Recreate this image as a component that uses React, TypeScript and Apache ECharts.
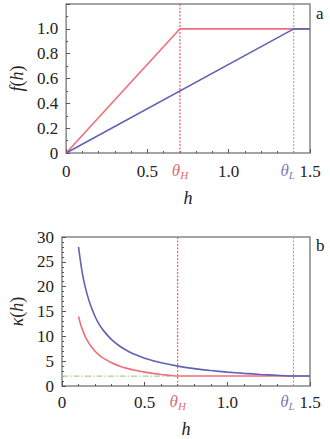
import React, { useEffect, useRef } from "react";
import * as echarts from "echarts";

// ---- data ----
const thetaH = 0.7;
const thetaL = 1.4;

// panel a: f(h)
const hRedA = [0, 0.7, 1.5];
const fRedA = [0, 1.0, 1.0];
const hBlueA = [0, 1.4, 1.5];
const fBlueA = [0, 1.0, 1.0];

// panel b: kappa(h)
const hRedB = [0.1, 0.11, 0.12, 0.13, 0.14, 0.15, 0.17, 0.2, 0.225, 0.25, 0.3, 0.35, 0.4, 0.45, 0.5, 0.55, 0.6, 0.65, 0.7, 1.5];
const kRedB = [14, 12.7, 11.7, 10.8, 10, 9.33, 8.24, 7, 6.22, 5.6, 4.67, 4, 3.5, 3.11, 2.8, 2.55, 2.33, 2.15, 2, 2];
const hBlueB = [0.1, 0.11, 0.12, 0.13, 0.14, 0.15, 0.17, 0.2, 0.225, 0.25, 0.3, 0.35, 0.4, 0.45, 0.5, 0.6, 0.7, 0.8, 0.9, 1.0, 1.1, 1.2, 1.3, 1.4, 1.5];
const kBlueB = [28, 25.5, 23.3, 21.5, 20, 18.7, 16.5, 14, 12.4, 11.2, 9.33, 8, 7, 6.22, 5.6, 4.67, 4, 3.5, 3.11, 2.8, 2.55, 2.33, 2.15, 2, 2];
const hGreen = [0, 0.66];
const kGreen = [2, 2];

const yTicksA = { min: 0, max: 1.2, interval: 0.2 };
const yTicksB = { min: 0, max: 30, interval: 5 };
const xTicks = { min: 0, max: 1.5, interval: 0.5 };

const RED = "#ef6e78";
const BLUE = "#5f63b5";
const RED_TXT = "#d8404c";
const BLUE_TXT = "#5858aa";
const FONT = "Liberation Serif";

const pairs = (xs: number[], ys: number[]) => xs.map((x, i) => [x, ys[i]]);

const thetaRich = {
  t: { fontSize: 17, lineHeight: 18, verticalAlign: "top", fontFamily: FONT, fontStyle: "italic" },
  s: { fontSize: 11, lineHeight: 11, padding: [8, 0, 0, 0], verticalAlign: "bottom", fontFamily: FONT, fontStyle: "italic" },
};

const nameRich = {
  i: { fontSize: 18, fontFamily: FONT, fontStyle: "italic", color: "#222" },
  n: { fontSize: 18, fontFamily: FONT, color: "#222" },
};

function makeXAxis(gridIndex: number, margin: number, gap: number) {
  return {
    type: "value",
    gridIndex,
    min: xTicks.min,
    max: xTicks.max,
    interval: xTicks.interval,
    axisLine: { show: false },
    axisTick: { show: true, inside: true, length: 4, lineStyle: { color: "#555", width: 1 } },
    minorTick: { show: true, splitNumber: 5, length: 2, lineStyle: { color: "#555", width: 1 } },
    splitLine: { show: false },
    axisLabel: {
      formatter: (v: number) => (v === 0 ? "0" : v.toFixed(1)),
      margin,
      fontSize: 17,
      lineHeight: 18,
      fontFamily: FONT,
      color: "#222",
      showMinLabel: true,
      showMaxLabel: true,
    },
    name: "{i|h}",
    nameLocation: "middle",
    nameGap: gap,
    nameTextStyle: { rich: nameRich },
  };
}

function vLine(ai: number, x: number, yMax: number, color: string) {
  return {
    type: "line",
    xAxisIndex: ai,
    yAxisIndex: ai,
    data: [[x, 0], [x, yMax]],
    showSymbol: false,
    symbol: "none",
    silent: true,
    z: 1,
    lineStyle: { color, width: 1, type: [2, 1.5] },
  };
}

function thetaLabel(ai: number, x: number, sub: string, color: string, distance: number, dx: number) {
  return {
    type: "scatter",
    xAxisIndex: ai,
    yAxisIndex: ai,
    data: [[x, 0]],
    symbolSize: 0,
    silent: true,
    label: {
      show: true,
      position: "bottom",
      distance,
      offset: [dx, 0],
      color,
      formatter: "{t|θ}{s|" + sub + "}",
      rich: thetaRich,
    },
  };
}

export default function App() {
  const ref = useRef<HTMLDivElement>(null);
  useEffect(() => {
    if (!ref.current) return;
    const chart = echarts.init(ref.current, null, { renderer: "svg" });
    const option: any = {
      animation: false,
      backgroundColor: "#fff",
      textStyle: { fontFamily: FONT },
      grid: [
        { left: 60, top: 4, width: 250, height: 149, show: true, borderColor: "#888", borderWidth: 1.5, backgroundColor: "transparent" },
        { left: 60, top: 237, width: 250, height: 150, show: true, borderColor: "#888", borderWidth: 1.5, backgroundColor: "transparent" },
      ],
      xAxis: [makeXAxis(0, 9, 36), makeXAxis(1, 7, 34)],
      yAxis: [
        {
          type: "value",
          gridIndex: 0,
          min: yTicksA.min,
          max: yTicksA.max,
          interval: yTicksA.interval,
          axisLine: { show: false },
          axisTick: { show: true, inside: true, length: 4, lineStyle: { color: "#555" } },
          minorTick: { show: true, splitNumber: 2, length: 2, lineStyle: { color: "#555" } },
          splitLine: { show: false },
          axisLabel: {
            margin: 8,
            fontSize: 17,
            fontFamily: FONT,
            color: "#222",
            formatter: (v: number) => (v === 0 ? "0" : v > 1.1 ? "" : v.toFixed(1)),
          },
          name: "{i|f}{n|(}{i|h}{n|)}",
          nameLocation: "middle",
          nameGap: 38,
          nameTextStyle: { rich: nameRich },
        },
        {
          type: "value",
          gridIndex: 1,
          min: yTicksB.min,
          max: yTicksB.max,
          interval: yTicksB.interval,
          axisLine: { show: false },
          axisTick: { show: true, inside: true, length: 4, lineStyle: { color: "#555" } },
          minorTick: { show: true, splitNumber: 5, length: 2, lineStyle: { color: "#555" } },
          splitLine: { show: false },
          axisLabel: { margin: 8, fontSize: 17, fontFamily: FONT, color: "#222" },
          name: "{i|κ}{n|(}{i|h}{n|)}",
          nameLocation: "middle",
          nameGap: 36,
          nameTextStyle: { rich: nameRich },
        },
      ],
      series: [
        vLine(0, thetaH, yTicksA.max, "#f03848"),
        vLine(0, thetaL, yTicksA.max, "#9094e0"),
        vLine(1, thetaH, yTicksB.max, "#f03848"),
        vLine(1, thetaL, yTicksB.max, "#9094e0"),
        {
          type: "line", xAxisIndex: 0, yAxisIndex: 0, data: pairs(hRedA, fRedA), showSymbol: false, symbol: "none",
          lineStyle: { color: RED, width: 1.6 },
        },
        {
          type: "line", xAxisIndex: 0, yAxisIndex: 0, data: pairs(hBlueA, fBlueA), showSymbol: false, symbol: "none",
          lineStyle: { color: BLUE, width: 1.6 },
        },
        {
          type: "line", xAxisIndex: 1, yAxisIndex: 1, data: pairs(hGreen, kGreen), showSymbol: false, symbol: "none",
          lineStyle: { color: "#a8d490", width: 1.2, type: [6, 2, 1.5, 2] },
        },
        {
          type: "line", xAxisIndex: 1, yAxisIndex: 1, data: pairs(hRedB, kRedB), showSymbol: false, symbol: "none", smooth: 0.2,
          lineStyle: { color: RED, width: 1.6 },
        },
        {
          type: "line", xAxisIndex: 1, yAxisIndex: 1, data: pairs(hBlueB, kBlueB), showSymbol: false, symbol: "none", smooth: 0.2,
          lineStyle: { color: BLUE, width: 1.6 },
        },
        thetaLabel(0, thetaH, "H", RED_TXT, 9, 0),
        thetaLabel(0, thetaL, "L", BLUE_TXT, 9, -6),
        thetaLabel(1, thetaH, "H", RED_TXT, 7, 0),
        thetaLabel(1, thetaL, "L", BLUE_TXT, 7, -6),
      ],
      graphic: [
        { type: "text", left: 316, top: 5, style: { text: "a", fontSize: 17, fontFamily: FONT, fill: "#222" } },
        { type: "text", left: 316, top: 237, style: { text: "b", fontSize: 17, fontFamily: FONT, fill: "#222" } },
      ],
    };
    chart.setOption(option);
    return () => chart.dispose();
  }, []);
  return <div ref={ref} style={{ position: "fixed", left: 0, top: 0, width: 330, height: 439 }} />;
}
